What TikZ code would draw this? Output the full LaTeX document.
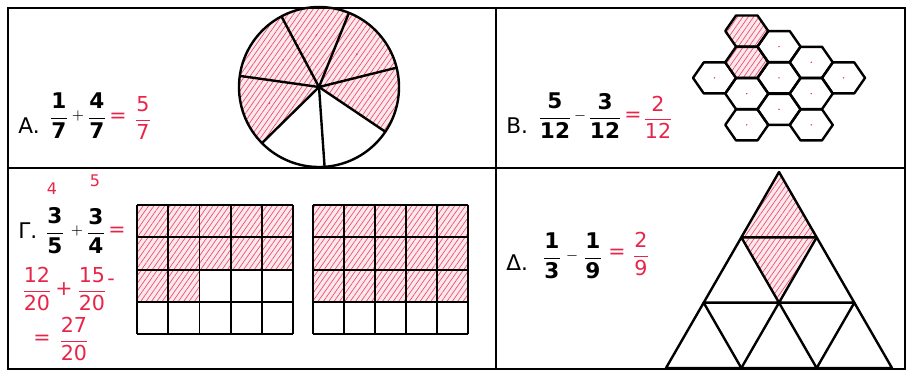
\documentclass[tikz,border=0pt]{standalone}
\usepackage{amsmath}
\usepackage{fontspec}
\setmainfont{DejaVu Sans}
\usetikzlibrary{patterns.meta}
\definecolor{pen}{RGB}{232,36,72}
\newcommand\qfrac[2]{$\dfrac{\text{#1}}{\text{#2}}$}
\tikzset{
  boxline/.style={line width=1pt},
  figline/.style={line width=1.2pt,line join=round},
  gridline/.style={line width=0.9pt},
  hatch/.style={fill=pen!10,postaction={pattern={Lines[angle=55,distance=2.2pt,line width=0.35pt]},pattern color=pen!80}},
  lbl/.style={font=\fontsize{10.8}{12}\selectfont,inner sep=0pt},
  numb/.style={font=\fontsize{10.8}{12}\bfseries,inner sep=0pt},
  hand/.style={font=\fontsize{10.3}{12}\selectfont,inner sep=0pt,text=pen},
  op/.style={font=\fontsize{7}{8}\selectfont,inner sep=0pt},
}

\begin{document}
\begin{tikzpicture}[x=0.5pt,y=-0.5pt]
 \useasboundingbox (0,0) rectangle (913,372);
 % A: circle in seven parts
 \begin{scope}[shift={(319,87)},yscale=-1]
  \path[hatch] (0,0) -- (-34:80) arc (-34:224.5:80) -- cycle;
  \foreach \a in {118,68,14,-34,-86,224.5,172}
    {\draw[figline] (0,0) -- (\a:80);}
  \draw[figline] (0,0) circle (80);
  \foreach \a/\d in {143/45,93/52,41/50,-10/52,198/52}
    {\fill[pen] (\a:\d) circle (0.8);}
 \end{scope}
 \node[lbl,anchor=base west] (labA) at (18,133) {A.};
 \node[numb] (fA1) at (59,116) {\qfrac{1}{7}};
 \node[op] (opA) at (78,116) {$+$};
 \node[numb] (fA2) at (97,116) {\qfrac{4}{7}};
 \node[hand] (eqA) at (118,118) {=};
 \node[hand] (rA) at (143,118) {\qfrac{5}{7}};
 % B: twelve hexagons
 \foreach \x/\y/\s in {714.5/77.9/0, 746.75/31/1, 746.75/62.3/1, 746.75/93.6/0, 746.75/124.9/0,
    779/46.6/0, 779/77.9/0, 779/109.3/0, 811.25/62.3/0, 811.25/93.6/0, 811.25/124.9/0, 843.5/77.9/0}{
   \ifnum\s=1 \path[hatch] (\x,\y) ++(-21.5,0) -- ++(10.75,-15.5) -- ++(21.5,0) -- ++(10.75,15.5)
       -- ++(-10.75,15.5) -- ++(-21.5,0) -- cycle;
   \else \fill[pen] (\x,\y) circle (0.8); \fi
   \draw[figline] (\x,\y) ++(-21.5,0) -- ++(10.75,-15.5) -- ++(21.5,0) -- ++(10.75,15.5)
       -- ++(-10.75,15.5) -- ++(-21.5,0) -- cycle;
 }
 \node[lbl,anchor=base west] (labB) at (506,133) {B.};
 \node[numb] (fB1) at (555,116) {\qfrac{5}{12}};
 \node[op] (opB) at (580,116) {$-$};
 \node[numb] (fB2) at (605,116) {\qfrac{3}{12}};
 \node[hand] (eqB) at (633,117) {=};
 \node[hand] (rB) at (658,117) {\qfrac{2}{12}};
 % Gamma: two grids of 5 x 4
 \path[hatch] (137,205) rectangle (293,269.3);
 \path[hatch] (137,269.3) rectangle (199.4,301.6);
 \path[hatch] (312.7,205) rectangle (467.7,301.6);
 \foreach \i in {0,...,5}{
   \draw[gridline] (137+31.2*\i,205) -- (137+31.2*\i,334.2);
   \draw[gridline] (312.7+31*\i,205) -- (312.7+31*\i,334.2);
 }
 \foreach \j in {0,...,4}{
   \draw[gridline] (137,205+32.3*\j) -- (293,205+32.3*\j);
   \draw[gridline] (312.7,205+32.3*\j) -- (467.7,205+32.3*\j);
 }
 \node[lbl,anchor=base west] (labG) at (18,238) {Γ.};
 \node[numb] (fG1) at (55,231) {\qfrac{3}{5}};
 \node[op] (opG) at (77,231) {$+$};
 \node[numb] (fG2) at (96,231) {\qfrac{3}{4}};
 \node[hand] (eqG) at (117,232) {=};
 \node[hand,font=\fontsize{8}{9}\selectfont] (upG1) at (52,189) {4};
 \node[hand,font=\fontsize{8}{9}\selectfont] (upG2) at (95,181) {5};
 \node[hand] (fG3) at (37,289) {\qfrac{12}{20}};
 \node[hand] (opG2) at (64,289) {+};
 \node[hand] (fG4) at (92,289) {\qfrac{15}{20}};
 \node[hand] (eqG2) at (111,282) {-};
 \node[hand] (eqG3) at (42,340) {=};
 \node[hand] (rG) at (74,339) {\qfrac{27}{20}};
 % Delta: triangle in nine parts
 \path[hatch] (779,172) -- (741.33,237.33) -- (779,302.67) -- (816.67,237.33) -- cycle;
 \foreach \i in {0,1,2}
   \foreach \j in {0,...,\i}
     {\draw[figline] (779-37.67*\i+75.33*\j,172+65.33*\i) -- ++(-37.67,65.33) -- ++(75.33,0) -- cycle;}
 \node[lbl,anchor=base west] (labD) at (506,270) {Δ.};
 \node[numb] (fD1) at (552,256) {\qfrac{1}{3}};
 \node[op] (opD) at (572,256) {$-$};
 \node[numb] (fD2) at (593,256) {\qfrac{1}{9}};
 \node[hand] (eqD) at (617,254) {=};
 \node[hand] (rD) at (641,254) {\qfrac{2}{9}};
 % frame
 \draw[boxline] (8,8) rectangle (905,369);
 \draw[boxline] (496,8) -- (496,369);
 \draw[boxline] (8,168) -- (905,168);
\end{tikzpicture}
\end{document}
